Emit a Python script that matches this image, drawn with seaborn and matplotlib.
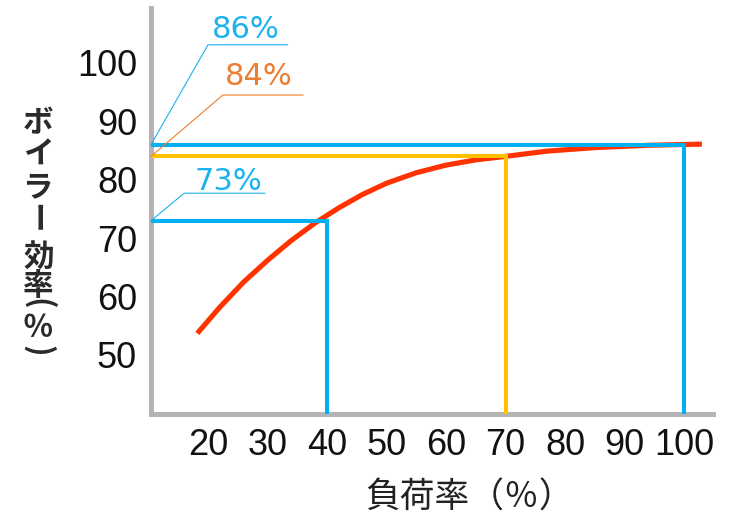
import matplotlib
matplotlib.use("Agg")
import matplotlib.pyplot as plt
import pandas as pd
import seaborn as sns
from matplotlib.font_manager import FontProperties
from matplotlib.textpath import TextPath

# Boiler efficiency curve (load factor % -> efficiency %)
load = [18.2, 22, 26, 30, 34, 38, 42, 46, 50, 55, 60, 65, 70, 77, 85, 94, 103]
eff = [53.7, 58.2, 62.5, 66.2, 69.6, 72.6, 75.2, 77.5, 79.4, 81.2, 82.5, 83.4, 84.0, 84.9, 85.5, 85.9, 86.1]

# Highlighted operating points
mark_load = [40, 70, 100]
mark_eff = [73, 84, 86]
mark_colors = ["#00b0f0", "#ffc000", "#00b0f0"]
callout_colors = ["#1cb2ee", "#ed7d31", "#1cb2ee"]

x_ticks = [20, 30, 40, 50, 60, 70, 80, 90, 100]
y_ticks = [50, 60, 70, 80, 90, 100]

x_title = "負荷率（％）"
y_title = ["ボ", "イ", "ラ", "ー", "効", "率", "(", "％", ")"]

sns.set_theme(style="white")
plt.rcParams["font.family"] = ["Liberation Sans", "DejaVu Sans"]

W, H, DPI = 735, 514, 100
fig = plt.figure(figsize=(W / DPI, H / DPI), dpi=DPI)
ax = fig.add_axes([151 / W, 1 - 414 / H, (713 - 151) / W, (414 - 8) / H])

XMIN, XMAX = 10.42, 104.87
YMIN, YMAX = 39.9, 109.4

curve = pd.DataFrame({"load": load, "eff": eff})
sns.lineplot(data=curve, x="load", y="eff", ax=ax, color="#ff3300",
             linewidth=3.7, solid_capstyle="butt", zorder=2)

# Guide lines from the y axis to each point and down to the x axis
for lx, ly, c in zip(mark_load, mark_eff, mark_colors):
    ax.plot([XMIN, lx, lx], [ly, ly, YMIN], color=c, linewidth=2.9,
            solid_joinstyle="miter", zorder=3)

# Callouts: leader from the axis to an underline with the value above it
# (knee x, knee y, underline end x, text x, text baseline y)
callout_layout = {
    86: (20.0, 103.1, 33.4, 20.7, 104.3),
    84: (22.5, 94.5, 36.0, 22.9, 96.2),
    73: (16.0, 77.7, 29.6, 17.8, 78.3),
}
for v, c in zip(mark_eff, callout_colors):
    kx, ky, ux, tx, ty = callout_layout[v]
    ax.plot([XMIN, kx, ux], [v, ky, ky], color=c, linewidth=0.8,
            zorder=4, clip_on=False)
    ax.text(tx, ty, f"{v}%", family="DejaVu Sans", fontsize=22, color=c,
            ha="left", va="baseline", zorder=4)

ax.set_xlim(XMIN, XMAX)
ax.set_ylim(YMIN, YMAX)
ax.set_xticks(x_ticks)
ax.set_yticks(y_ticks)
ax.set_xlabel("")
ax.set_ylabel("")
ax.grid(False)

ax.tick_params(direction="in", width=2.2, color="#8a8a8a",
               labelsize=26, labelcolor="#111111", pad=10)
ax.tick_params(axis="x", length=10)
ax.tick_params(axis="y", length=8.5)

for s in ["top", "right"]:
    ax.spines[s].set_visible(False)
for s in ["left", "bottom"]:
    ax.spines[s].set_color("#b4b4b4")
    ax.spines[s].set_linewidth(3.6)

fig.text(365 / W, 1 - 498 / H, x_title, family="Noto Sans CJK JP",
         fontsize=25, color="#222222", ha="left", va="center")

# Vertical axis title: one character per line, each glyph centred on its
# slot; brackets and the long vowel mark get a quarter turn as in
# vertical writing.
title_font = FontProperties(family="Noto Sans CJK JP", weight="bold", size=22)
y_centers = [120, 152, 185, 218, 255, 283, 304, 325, 350]
x_center = 38
px = DPI / 72
for ch, yc in zip(y_title, y_centers):
    rot = -90 if ch in ("ー", "(", ")") else 0
    ext = TextPath((0, 0), ch, prop=title_font).get_extents()
    gx = (ext.x0 + ext.x1) / 2 * px
    gy = (ext.y0 + ext.y1) / 2 * px
    if rot == -90:
        gx, gy = gy, -gx
    fig.text((x_center - gx) / W, ((H - yc) - gy) / H, ch,
             fontproperties=title_font, color="#2a2a2a",
             ha="left", va="baseline", rotation=rot, rotation_mode="anchor")

fig.savefig("out.png", dpi=DPI)
